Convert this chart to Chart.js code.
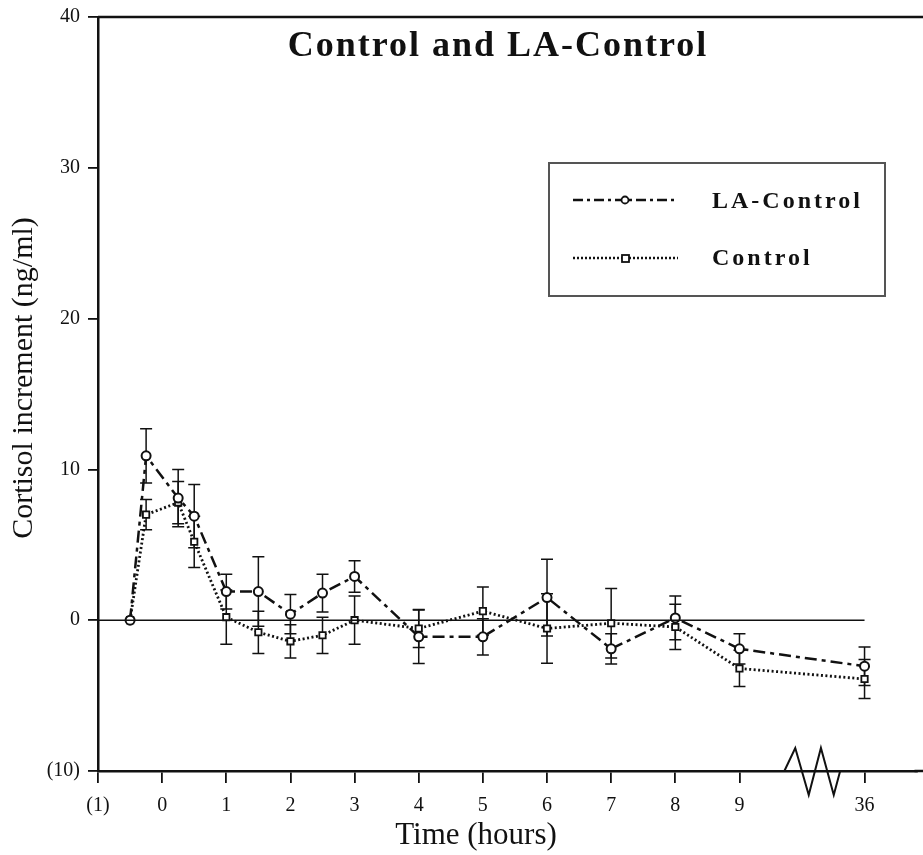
<!DOCTYPE html>
<html>
<head>
<meta charset="utf-8">
<script src="https://cdn.jsdelivr.net/npm/chart.js@4/dist/chart.umd.min.js"></script>
<style>
  body { margin: 0; background: #fff; }
</style>
</head>
<body>
<canvas id="cortisolChart" width="923" height="855"></canvas>
<script>
// hours after treatment (36 h is drawn past the axis break)
const timePoints = [-0.5, -0.25, 0.25, 0.5, 1, 1.5, 2, 2.5, 3, 4, 5, 6, 7, 8, 9, 10.95];

const laControl = [0, 10.9, 8.1, 6.9, 1.9, 1.9, 0.4, 1.8, 2.9, -1.1, -1.1, 1.5, -1.9, 0.15, -1.9, -3.05];
const laControlSE = [0, 1.8, 1.9, 2.1, 1.15, 2.3, 1.3, 1.25, 1.05, 1.77, 1.2, 2.55, 1.0, 1.45, 1.0, 1.28];

const control = [0, 7.0, 7.8, 5.2, 0.2, -0.8, -1.4, -1.0, 0.0, -0.55, 0.6, -0.55, -0.2, -0.45, -3.2, -3.9];
const controlSE = [0, 1.0, 1.4, 1.7, 1.8, 1.4, 1.1, 1.2, 1.6, 1.26, 1.6, 2.3, 2.3, 1.5, 1.2, 1.3];

const xTickValues = [-1, 0, 1, 2, 3, 4, 5, 6, 7, 8, 9, 10.95];
const xTickLabels = ["(1)", "0", "1", "2", "3", "4", "5", "6", "7", "8", "9", "36"];
const yTickValues = [-10, 0, 10, 20, 30, 40];
const yTickLabels = ["(10)", "0", "10", "20", "30", "40"];

const INK = "#111";
const SERIF = '"Liberation Serif", "DejaVu Serif", serif';

const toPoints = (vals) => vals.map((v, i) => ({ x: timePoints[i], y: v }));

// error bars, axis frame, break mark, titles and legend
const decorations = {
  id: "decorations",
  beforeDatasetsDraw(chart) {
    const { ctx, scales } = chart;
    const { x, y } = scales;
    ctx.save();
    ctx.strokeStyle = INK;
    ctx.lineWidth = 1.5;
    [[laControl, laControlSE], [control, controlSE]].forEach(([vals, se]) => {
      vals.forEach((v, i) => {
        if (!se[i]) return;
        const px = x.getPixelForValue(timePoints[i]);
        const top = y.getPixelForValue(v + se[i]);
        const bot = y.getPixelForValue(v - se[i]);
        ctx.beginPath();
        ctx.moveTo(px, top); ctx.lineTo(px, bot);
        ctx.moveTo(px - 6, top); ctx.lineTo(px + 6, top);
        ctx.moveTo(px - 6, bot); ctx.lineTo(px + 6, bot);
        ctx.stroke();
      });
    });
    ctx.restore();
  },
  afterDraw(chart) {
    const { ctx, chartArea, scales } = chart;
    const { x, y } = scales;
    ctx.save();
    // frame lines run to the right edge
    ctx.strokeStyle = INK;
    ctx.lineWidth = 2.5;
    ctx.beginPath();
    ctx.moveTo(chartArea.left, chartArea.top);
    ctx.lineTo(chart.width, chartArea.top);
    ctx.moveTo(chartArea.right - 2, chartArea.bottom);
    ctx.lineTo(chart.width, chartArea.bottom);
    ctx.stroke();

    // axis break zigzag between 9 and 36
    const base = y.getPixelForValue(-10);
    ctx.lineWidth = 2;
    ctx.beginPath();
    ctx.moveTo(x.getPixelForValue(9.7), base);
    ctx.lineTo(x.getPixelForValue(9.87), base - 23);
    ctx.lineTo(x.getPixelForValue(10.08), base + 24);
    ctx.lineTo(x.getPixelForValue(10.27), base - 23);
    ctx.lineTo(x.getPixelForValue(10.47), base + 24);
    ctx.lineTo(x.getPixelForValue(10.57), base);
    ctx.stroke();

    ctx.fillStyle = INK;
    ctx.textBaseline = "middle";

    // axis titles
    ctx.font = "31px " + SERIF;
    ctx.textAlign = "center";
    ctx.fillText("Time (hours)", 476, 836);
    ctx.save();
    ctx.translate(24, 378);
    ctx.rotate(-Math.PI / 2);
    ctx.font = "30px " + SERIF;
    ctx.fillText("Cortisol increment (ng/ml)", 0, 0);
    ctx.restore();

    // title
    ctx.font = "bold 36px " + SERIF;
    ctx.letterSpacing = "2px";
    ctx.fillText("Control and LA-Control", 498, 47);

    // legend box
    ctx.letterSpacing = "0px";
    ctx.strokeStyle = "#555";
    ctx.lineWidth = 2;
    ctx.strokeRect(549, 163, 336, 133);

    ctx.strokeStyle = INK;
    ctx.lineWidth = 2.5;
    ctx.setLineDash([10, 4, 3, 4]);
    ctx.beginPath(); ctx.moveTo(573, 200); ctx.lineTo(678, 200); ctx.stroke();
    ctx.setLineDash([2, 2]);
    ctx.beginPath(); ctx.moveTo(573, 258); ctx.lineTo(678, 258); ctx.stroke();
    ctx.setLineDash([]);
    ctx.lineWidth = 1.8;
    ctx.fillStyle = "#fff";
    ctx.beginPath(); ctx.arc(625, 200, 3.5, 0, Math.PI * 2); ctx.fill(); ctx.stroke();
    ctx.fillRect(622, 255, 7, 7); ctx.strokeRect(622, 255, 7, 7);

    ctx.fillStyle = INK;
    ctx.font = "bold 24px " + SERIF;
    ctx.textAlign = "left";
    ctx.letterSpacing = "3px";
    ctx.fillText("LA-Control", 712, 202);
    ctx.fillText("Control", 712, 259);
    ctx.restore();
  }
};

new Chart(document.getElementById("cortisolChart"), {
  type: "line",
  data: {
    datasets: [
      {
        label: "zero",
        data: [{ x: -1, y: 0 }, { x: 10.95, y: 0 }],
        borderColor: INK,
        borderWidth: 1.5,
        pointRadius: 0
      },
      {
        label: "LA-Control",
        data: toPoints(laControl),
        borderColor: INK,
        borderWidth: 2.5,
        borderDash: [12, 5, 4, 5],
        pointStyle: "circle",
        pointRadius: 4.5,
        pointBorderWidth: 2,
        pointBackgroundColor: "#fff",
        pointBorderColor: INK
      },
      {
        label: "Control",
        data: toPoints(control),
        borderColor: INK,
        borderWidth: 2.8,
        borderDash: [2, 2.5],
        pointStyle: "rect",
        pointRadius: 4.5,
        pointBorderWidth: 1.8,
        pointBackgroundColor: "#fff",
        pointBorderColor: INK
      }
    ]
  },
  options: {
    responsive: false,
    animation: false,
    devicePixelRatio: 1,
    layout: { padding: { top: 17, right: 0, left: 0, bottom: 0 } },
    plugins: { legend: { display: false }, tooltip: { enabled: false } },
    scales: {
      x: {
        type: "linear",
        min: -1,
        max: 11.76,
        afterBuildTicks: (scale) => { scale.ticks = xTickValues.map((v) => ({ value: v })); },
        afterFit: (scale) => { scale.height = 84; scale.paddingRight = 0; scale.paddingLeft = 0; },
        grid: { drawOnChartArea: false, tickLength: 12, color: INK, lineWidth: 1.8 },
        border: { color: INK, width: 2.5 },
        ticks: {
          autoSkip: false,
          maxRotation: 0,
          padding: 11,
          color: INK,
          font: { family: SERIF, size: 20 },
          callback: (v, i) => xTickLabels[i]
        }
      },
      y: {
        min: -10,
        max: 40,
        afterBuildTicks: (scale) => { scale.ticks = yTickValues.map((v) => ({ value: v })); },
        afterFit: (scale) => { scale.width = 98; scale.paddingTop = 0; scale.paddingBottom = 0; },
        grid: { drawOnChartArea: false, tickLength: 10, color: INK, lineWidth: 1.8 },
        border: { color: INK, width: 2.5 },
        ticks: {
          padding: 8,
          color: INK,
          font: { family: SERIF, size: 20 },
          callback: (v, i) => yTickLabels[i]
        }
      }
    }
  },
  plugins: [decorations]
});
</script>
</body>
</html>
